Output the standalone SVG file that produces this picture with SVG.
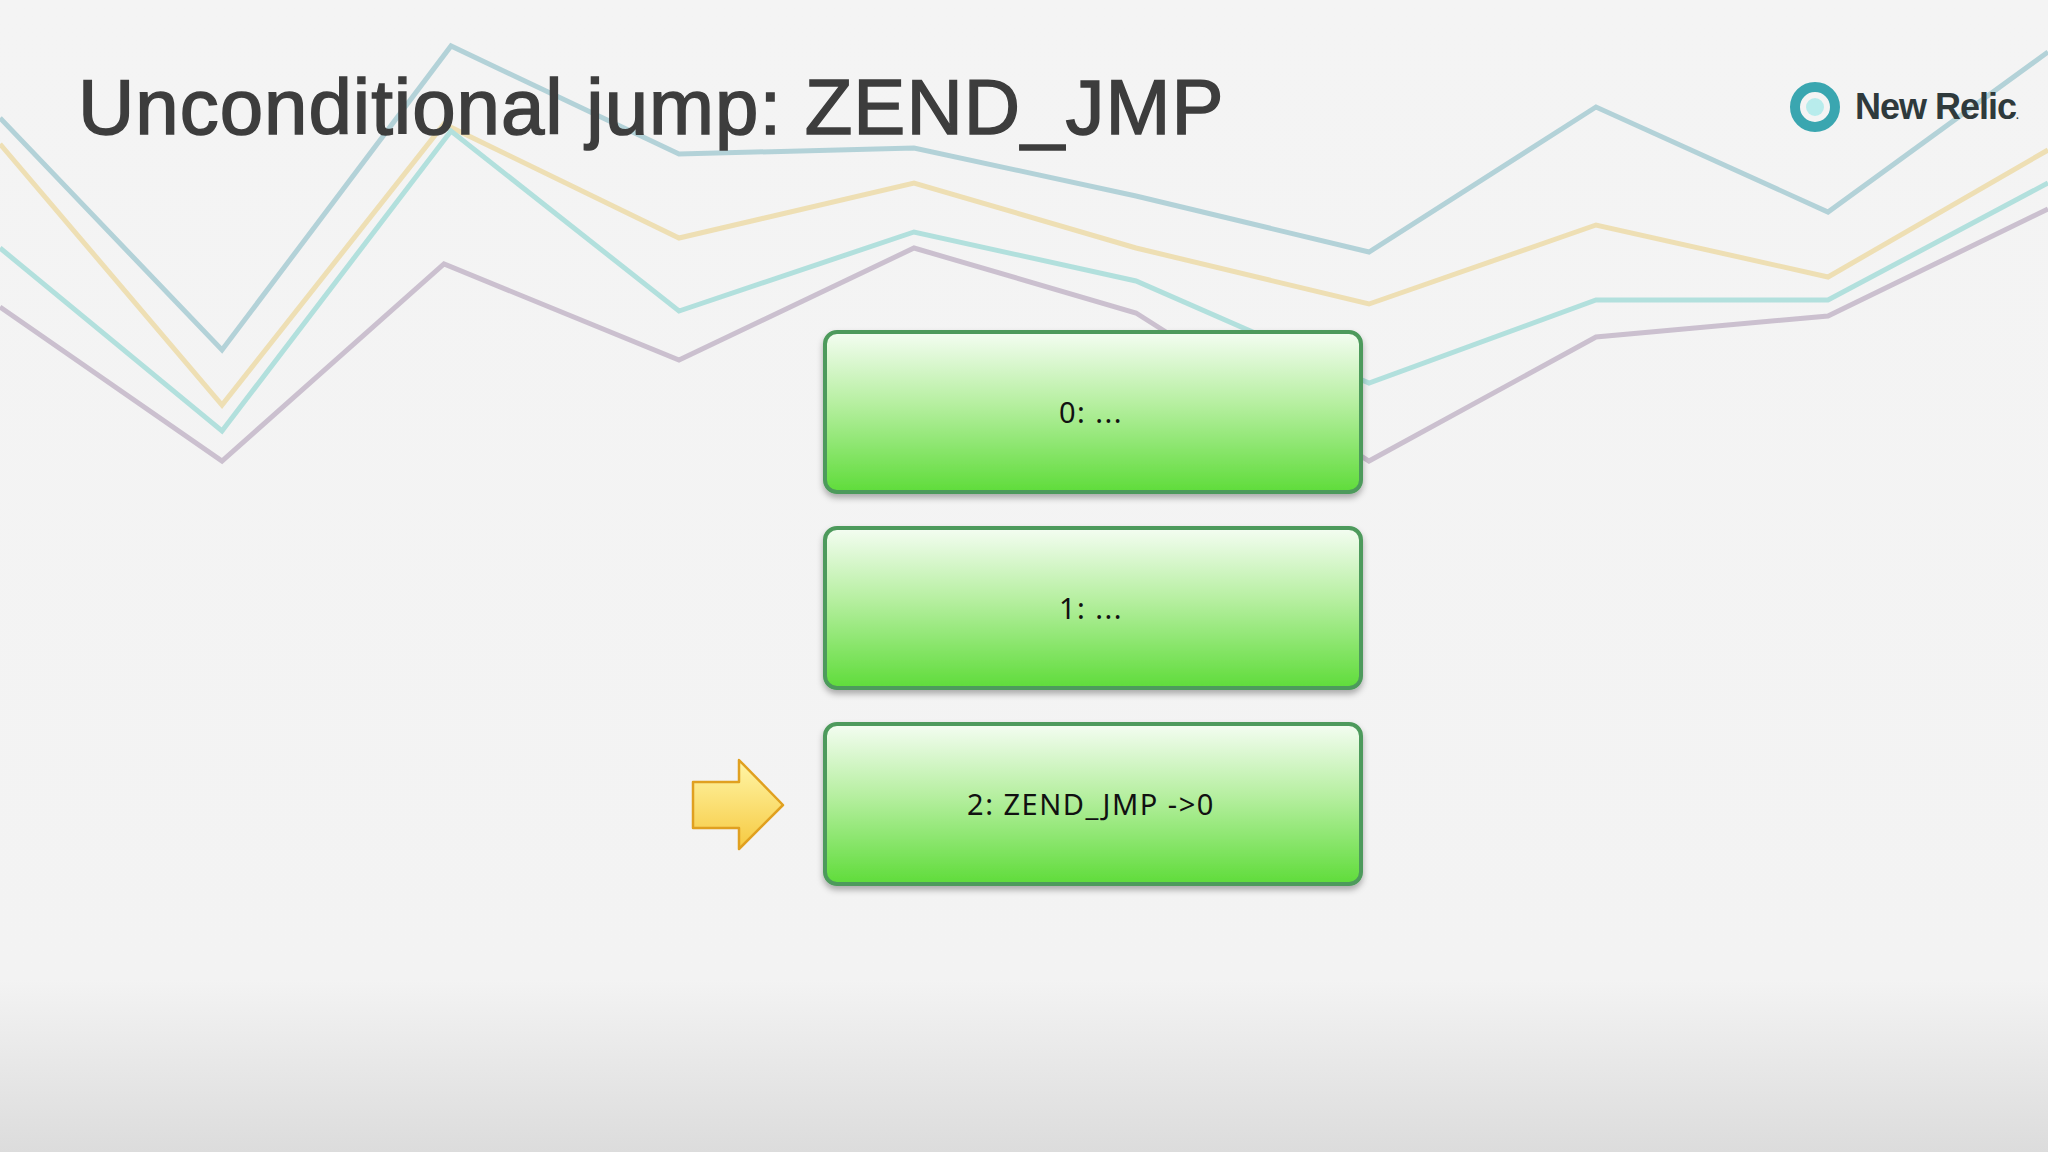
<svg xmlns="http://www.w3.org/2000/svg" width="2048" height="1152" viewBox="0 0 2048 1152">
<defs>
<linearGradient id="bg" x1="0" y1="0" x2="0" y2="1"><stop offset="0" stop-color="#f4f4f4"/><stop offset="0.85" stop-color="#f3f3f3"/><stop offset="1" stop-color="#dcdcdc"/></linearGradient>
<linearGradient id="gr" x1="0" y1="0" x2="0" y2="1"><stop offset="0" stop-color="#f4fdf2"/><stop offset="0.45" stop-color="#b6efa0"/><stop offset="1" stop-color="#5fdc3a"/></linearGradient>
<linearGradient id="ar" x1="0" y1="0" x2="0" y2="1"><stop offset="0" stop-color="#fff6a8"/><stop offset="1" stop-color="#f6c940"/></linearGradient>
<filter id="sh" x="-5%" y="-10%" width="110%" height="125%"><feDropShadow dx="0" dy="4" stdDeviation="3" flood-color="#000" flood-opacity="0.3"/></filter>
<style>
.ln{fill:none;stroke-width:5;stroke-linejoin:miter}
.box{fill:url(#gr);stroke:#4e9a5c;stroke-width:4;filter:url(#sh)}
.lbl{font-family:"Noto Sans","DejaVu Sans",sans-serif;font-size:29px;fill:#111;text-anchor:middle;letter-spacing:1.5px}
</style>
</defs>
<rect width="2048" height="1152" fill="url(#bg)"/>
<g id="bg-lines">
<polyline class="ln" stroke="#b3d2d8" points="0,118 222,350 451,46 679,154 914,148 1136,196 1369,252 1596,107 1828,212 2048,52"/>
<polyline class="ln" stroke="#eedfb4" points="0,144 222,405 444,124 679,238 914,183 1136,248 1369,304 1596,225 1828,277 2048,150"/>
<polyline class="ln" stroke="#b2e0dd" points="0,248 222,431 451,131 679,311 914,232 1136,281 1369,383 1596,300 1828,300 2048,183"/>
<polyline class="ln" stroke="#cbc0cf" points="0,307 222,461 444,264 679,360 914,248 1136,313 1369,461 1596,337 1828,316 2048,209"/>
</g>
<text x="78" y="134" font-family="Liberation Sans,Arial,sans-serif" font-size="78" fill="#3d3d3d" stroke="#3d3d3d" stroke-width="1.5" letter-spacing="1">Unconditional jump: ZEND_JMP</text>
<g id="logo">
<circle cx="1815" cy="107" r="20" fill="none" stroke="#3aa6b0" stroke-width="10"/>
<circle cx="1815" cy="107" r="9" fill="#b8ecec"/>
<text x="1855" y="119" font-family="Liberation Sans,Arial,sans-serif" font-size="36" font-weight="bold" fill="#2f3a3c" letter-spacing="-1">New Relic<tspan font-size="10">.</tspan></text>
</g>
<g id="n0"><rect class="box" x="825" y="332" width="536" height="160" rx="12"/><text class="lbl" x="1091" y="423">0: ...</text></g>
<g id="n1"><rect class="box" x="825" y="528" width="536" height="160" rx="12"/><text class="lbl" x="1091" y="619">1: ...</text></g>
<g id="n2"><rect class="box" x="825" y="724" width="536" height="160" rx="12"/><text class="lbl" x="1091" y="815">2: ZEND_JMP -&gt;0</text></g>
<g id="connectors">
<polygon points="693,782 739,782 739,760 783,805 739,849 739,828 693,828" fill="url(#ar)" stroke="#e0a020" stroke-width="2.5" stroke-linejoin="round"/>
</g>
</svg>
